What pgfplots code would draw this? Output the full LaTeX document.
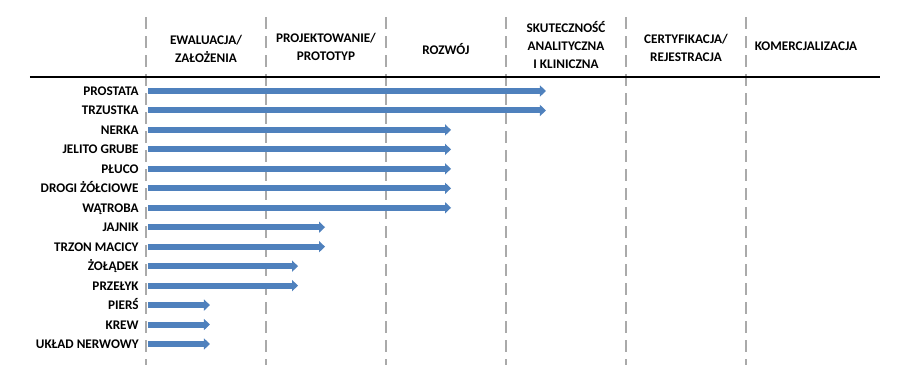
\documentclass[border=0pt]{standalone}
\usepackage{pgfplots}
\pgfplotsset{compat=1.18}
\usepackage{pgfplotstable}
\usepackage{fontspec}
\setmainfont{Carlito}
\usetikzlibrary{arrows.meta}
\definecolor{arr}{RGB}{79,129,189}
\definecolor{sep}{RGB}{170,170,170}

\pgfplotstableread{
row x0 len
0 0.02 3.313
1 0.02 3.313
2 0.02 2.522
3 0.02 2.522
4 0.02 2.522
5 0.02 2.522
6 0.02 2.522
7 0.02 1.472
8 0.02 1.472
9 0.02 1.247
10 0.02 1.247
11 0.02 0.513
12 0.02 0.513
13 0.02 0.513
}\arrowdata

\begin{document}
\begin{tikzpicture}[lab/.style={font=\fontsize{13.2}{18}\selectfont\bfseries, inner sep=0pt}]
\begin{axis}[scale only axis, width=904pt, height=381pt,
  xmin=-1.2167, xmax=6.3167, ymin=-4.676, ymax=14.902, y dir=reverse,
  hide axis, clip=false]
\path (rel axis cs:0,0) rectangle (rel axis cs:1,1);
\pgfplotsinvokeforeach{0,1,2,3,4,5}{
  \draw[sep, line width=2pt, dash pattern=on 12pt off 7pt] (axis cs:#1,-3.8) -- (axis cs:#1,14.08);
}
\draw[black, line width=2pt] (axis cs:-0.967,-0.704) -- (axis cs:6.117,-0.704);
\addplot[arr, line width=6pt, -{Triangle[width=11pt,length=6pt]},
  quiver={u=\thisrow{len}, v=0}] table[x=x0, y=row] {\arrowdata};

\node[lab, align=center] at (axis cs:0.5,-2.158) {EWALUACJA/\\ZAŁOŻENIA};
\node[lab, align=center] at (axis cs:1.5,-2.261) {PROJEKTOWANIE/\\PROTOTYP};
\node[lab, align=center] at (axis cs:2.5,-2.158) {ROZWÓJ};
\node[lab, align=center] at (axis cs:3.5,-2.364) {SKUTECZNOŚĆ\\ANALITYCZNA\\I KLINICZNA};
\node[lab, align=center] at (axis cs:4.5,-2.210) {CERTYFIKACJA/\\REJESTRACJA};
\node[lab, align=center] at (axis cs:5.5,-2.312) {KOMERCJALIZACJA};

\node[lab, anchor=base east, yshift=-4.5pt] at (axis cs:-0.06,0) {PROSTATA};
\node[lab, anchor=base east, yshift=-4.5pt] at (axis cs:-0.06,1) {TRZUSTKA};
\node[lab, anchor=base east, yshift=-4.5pt] at (axis cs:-0.06,2) {NERKA};
\node[lab, anchor=base east, yshift=-4.5pt] at (axis cs:-0.06,3) {JELITO GRUBE};
\node[lab, anchor=base east, yshift=-4.5pt] at (axis cs:-0.06,4) {PŁUCO};
\node[lab, anchor=base east, yshift=-4.5pt] at (axis cs:-0.06,5) {DROGI ŻÓŁCIOWE};
\node[lab, anchor=base east, yshift=-4.5pt] at (axis cs:-0.06,6) {WĄTROBA};
\node[lab, anchor=base east, yshift=-4.5pt] at (axis cs:-0.06,7) {JAJNIK};
\node[lab, anchor=base east, yshift=-4.5pt] at (axis cs:-0.06,8) {TRZON MACICY};
\node[lab, anchor=base east, yshift=-4.5pt] at (axis cs:-0.06,9) {ŻOŁĄDEK};
\node[lab, anchor=base east, yshift=-4.5pt] at (axis cs:-0.06,10) {PRZEŁYK};
\node[lab, anchor=base east, yshift=-4.5pt] at (axis cs:-0.06,11) {PIERŚ};
\node[lab, anchor=base east, yshift=-4.5pt] at (axis cs:-0.06,12) {KREW};
\node[lab, anchor=base east, yshift=-4.5pt] at (axis cs:-0.06,13) {UKŁAD NERWOWY};
\end{axis}
\end{tikzpicture}
\end{document}
